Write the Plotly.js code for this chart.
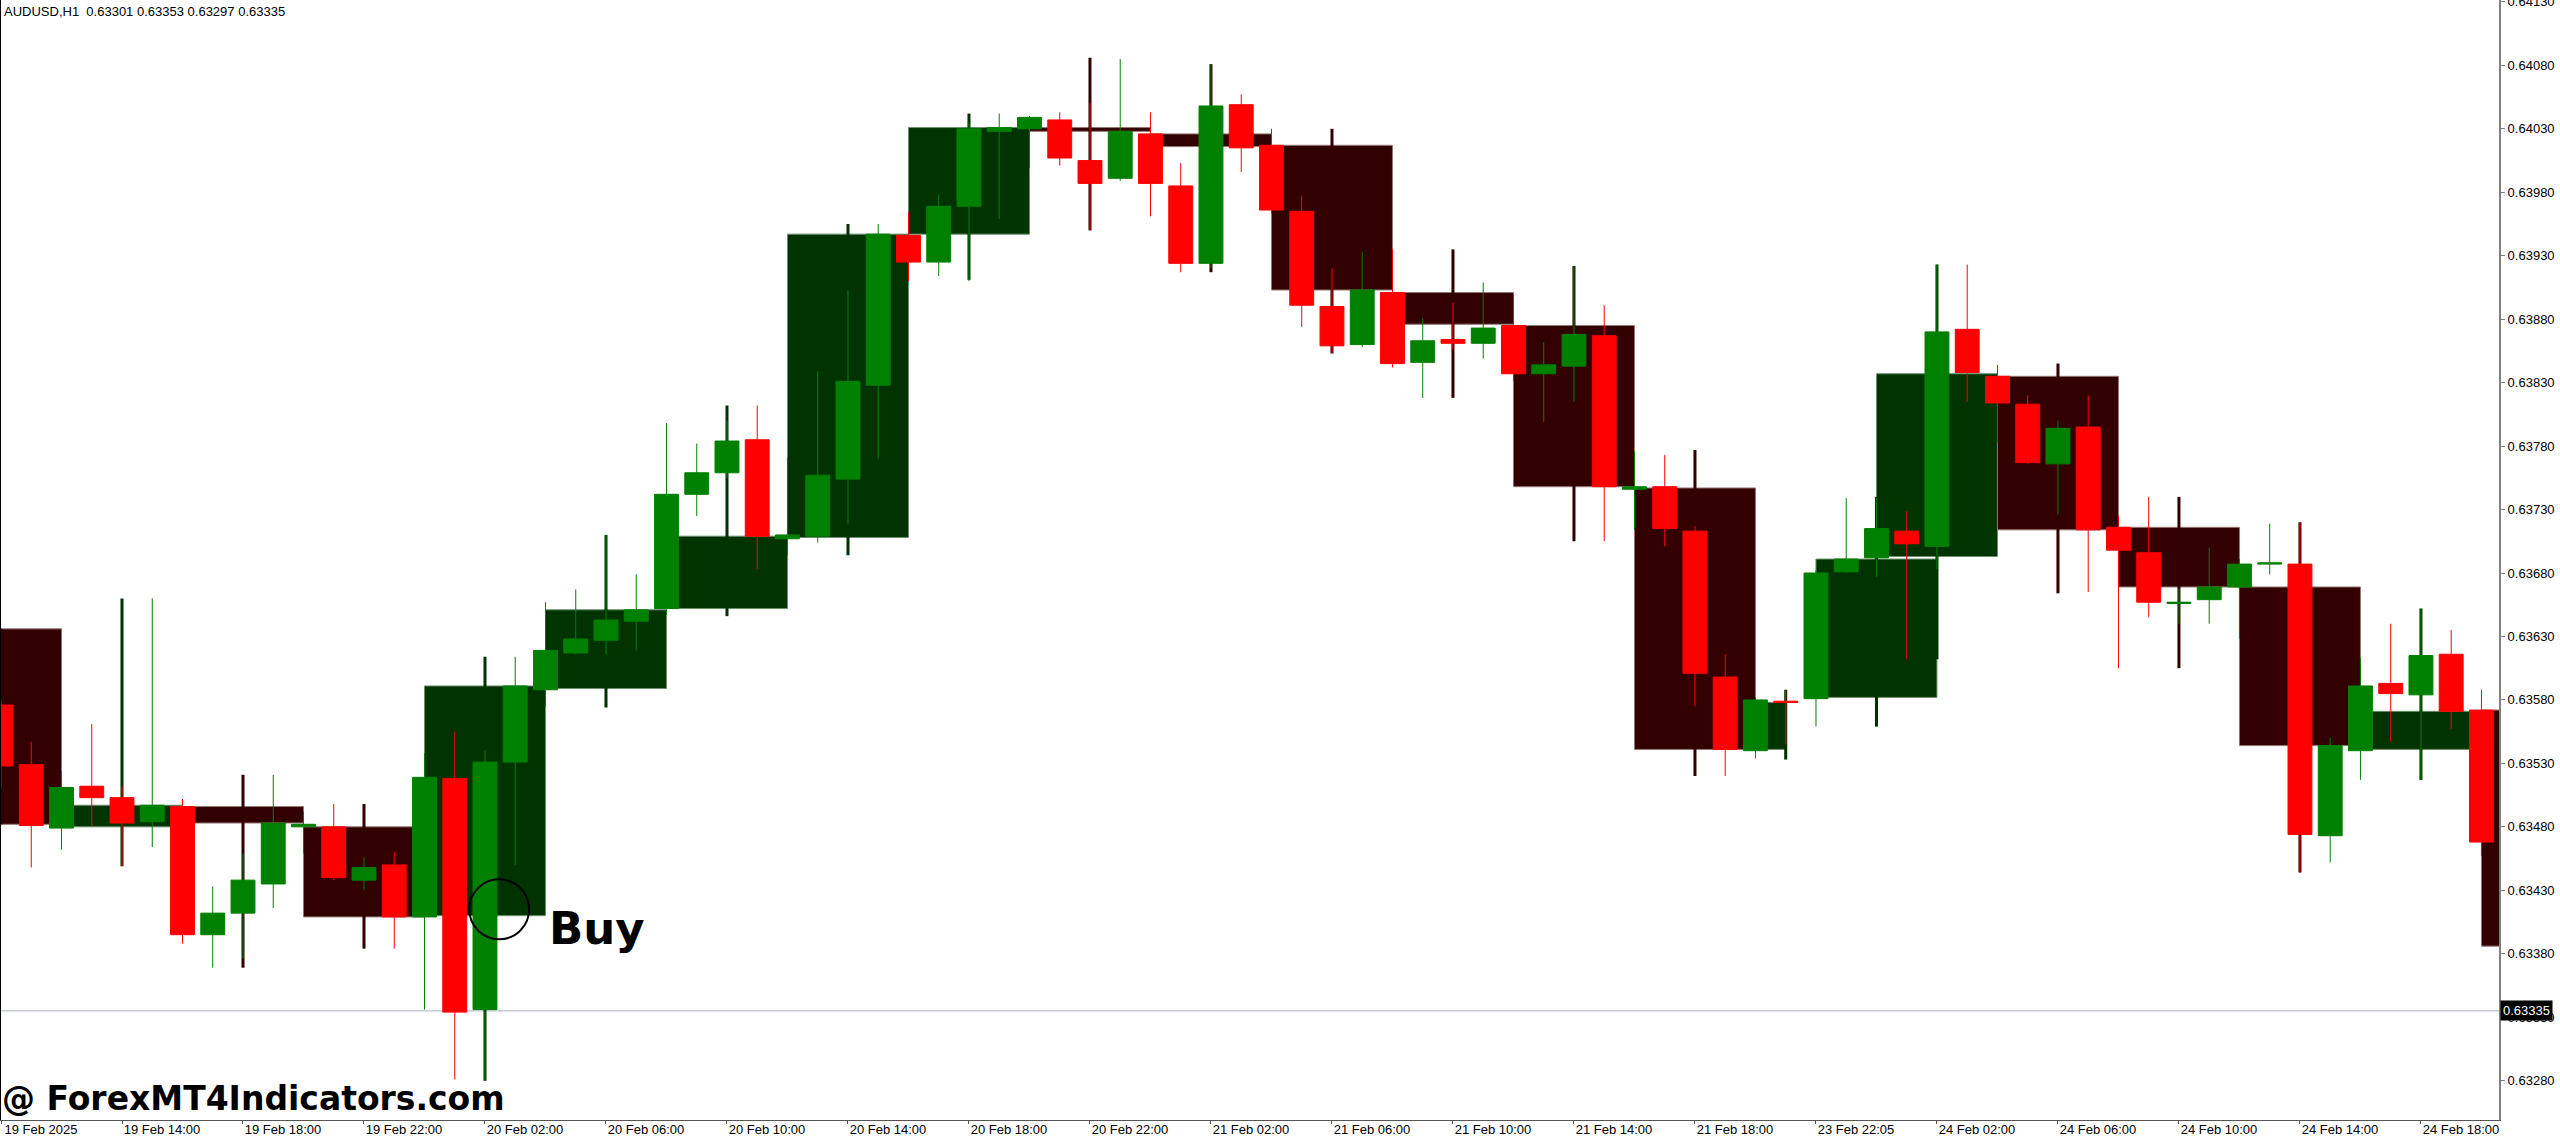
<!DOCTYPE html>
<html><head><meta charset="utf-8">
<script src="https://cdn.plot.ly/plotly-3.0.1.min.js"></script>
<style>html,body{margin:0;padding:0;background:#fff;overflow:hidden}#chart{width:2560px;height:1141px}</style>
</head><body><div id="chart"></div>
<script>
// ---------- texts ----------
const symbolInfo = "AUDUSD,H1  0.63301 0.63353 0.63297 0.63335";
const watermark = "@ ForexMT4Indicators.com";
const signalText = "Buy";
const currentPrice = 0.63335;

// ---------- x tick labels (every 4th H1 bar) ----------
const xTickIdx = [0,4,8,12,16,20,24,28,32,36,40,44,48,52,56,60,64,68,72,76,80];
const xTickText = ["19 Feb 2025","19 Feb 14:00","19 Feb 18:00","19 Feb 22:00","20 Feb 02:00","20 Feb 06:00",
  "20 Feb 10:00","20 Feb 14:00","20 Feb 18:00","20 Feb 22:00","21 Feb 02:00","21 Feb 06:00","21 Feb 10:00",
  "21 Feb 14:00","21 Feb 18:00","23 Feb 22:05","24 Feb 02:00","24 Feb 06:00","24 Feb 10:00","24 Feb 14:00","24 Feb 18:00"];

// ---------- H1 candles ----------
const h1Open = [
0.63576,0.63529,0.63479,0.63512,0.63503,0.63484,0.63496,0.63395,0.63412,0.63435,
0.63480,0.63480,0.63438,0.63450,0.63409,0.63518,0.63336,0.63531,0.63588,0.63617,
0.63627,0.63642,0.63652,0.63742,0.63759,0.63785,0.63707,0.63709,0.63754,0.63828,
0.63946,0.63925,0.63969,0.64028,0.64030,0.64037,0.64005,0.63991,0.64026,0.63985,
0.63924,0.64049,0.64017,0.63965,0.63890,0.63860,0.63901,0.63846,0.63864,0.63861,
0.63875,0.63837,0.63843,0.63867,0.63746,0.63748,0.63713,0.63598,0.63540,0.63579,
0.63581,0.63681,0.63692,0.63713,0.63701,0.63872,0.63835,0.63813,0.63766,0.63795,
0.63716,0.63696,0.63656,0.63659,0.63669,0.63687,0.63687,0.63473,0.63540,0.63593,
0.63584,0.63616,0.63572];
const h1High = [
0.63580,0.63547,0.63524,0.63561,0.63512,0.63660,0.63502,0.63433,0.63459,0.63521,
0.63492,0.63498,0.63456,0.63460,0.63538,0.63555,0.63540,0.63614,0.63657,0.63667,
0.63710,0.63679,0.63798,0.63782,0.63800,0.63812,0.63771,0.63839,0.63903,0.63955,
0.63964,0.63978,0.64035,0.64042,0.64040,0.64043,0.64050,0.64085,0.64043,0.64003,
0.64081,0.64057,0.64030,0.63977,0.63920,0.63933,0.63935,0.63881,0.63893,0.63909,
0.63899,0.63862,0.63922,0.63891,0.63776,0.63773,0.63717,0.63616,0.63582,0.63588,
0.63682,0.63739,0.63739,0.63729,0.63923,0.63923,0.63844,0.63820,0.63800,0.63820,
0.63725,0.63740,0.63668,0.63700,0.63691,0.63719,0.63720,0.63550,0.63613,0.63640,
0.63652,0.63635,0.63588];
const h1Low = [
0.63511,0.63448,0.63462,0.63480,0.63449,0.63464,0.63388,0.63369,0.63376,0.63416,
0.63459,0.63438,0.63430,0.63384,0.63336,0.63281,0.63280,0.63450,0.63575,0.63616,
0.63616,0.63619,0.63647,0.63725,0.63755,0.63683,0.63694,0.63704,0.63719,0.63770,
0.63910,0.63914,0.63910,0.63959,0.63999,0.64001,0.63950,0.63989,0.63961,0.63917,
0.63920,0.63996,0.63963,0.63874,0.63853,0.63858,0.63842,0.63818,0.63856,0.63849,
0.63831,0.63799,0.63815,0.63705,0.63714,0.63701,0.63575,0.63520,0.63534,0.63545,
0.63559,0.63680,0.63677,0.63612,0.63683,0.63815,0.63783,0.63766,0.63726,0.63665,
0.63605,0.63645,0.63640,0.63640,0.63628,0.63679,0.63444,0.63452,0.63517,0.63547,
0.63517,0.63557,0.63457];
const h1Close = [
0.63528,0.63481,0.63511,0.63503,0.63483,0.63497,0.63395,0.63412,0.63438,0.63483,
0.63482,0.63440,0.63448,0.63409,0.63519,0.63334,0.63531,0.63591,0.63619,0.63628,
0.63643,0.63651,0.63742,0.63759,0.63784,0.63709,0.63710,0.63757,0.63831,0.63947,
0.63925,0.63969,0.64030,0.64031,0.64039,0.64007,0.63987,0.64028,0.63987,0.63924,
0.64048,0.64015,0.63966,0.63891,0.63859,0.63903,0.63845,0.63863,0.63861,0.63873,
0.63837,0.63844,0.63868,0.63748,0.63748,0.63715,0.63601,0.63541,0.63580,0.63578,
0.63680,0.63691,0.63715,0.63703,0.63870,0.63838,0.63814,0.63767,0.63794,0.63714,
0.63698,0.63657,0.63657,0.63669,0.63687,0.63688,0.63474,0.63544,0.63591,0.63585,
0.63615,0.63571,0.63468];

// ---------- H4 boxes (span in H1 bar index) ----------
const h4From   = [-2,2,6,10,14,18,22,26,30,34,38,42,46,50,54,58,60,62,66,70,74,78,82];
const h4To     = [2,6,10,14,18,22,26,30,34,38,42,46,50,54,58,59,64,66,70,74,78,82,86];
const h4WickAt = [0,4,8,12,16,20,24,28,32,36,40,44,48,52,56,59,62,64,68,72,76,80,84];
const h4Open  = [0.63636,0.63480,0.63496,0.63480,0.63410,0.63589,0.63652,0.63708,0.63947,0.64031,0.64026,0.64017,0.63901,0.63875,0.63747,0.63541,0.63582,0.63693,0.63835,0.63716,0.63669,0.63541,0.63572];
const h4High  = [0.63636,0.63660,0.63521,0.63498,0.63614,0.63710,0.63812,0.63955,0.64042,0.64086,0.64081,0.64030,0.63935,0.63922,0.63777,0.63588,0.63740,0.63923,0.63845,0.63740,0.63720,0.63652,0.63588];
const h4Low   = [0.63482,0.63449,0.63369,0.63384,0.63280,0.63574,0.63646,0.63694,0.63911,0.63950,0.63917,0.63853,0.63818,0.63705,0.63520,0.63533,0.63559,0.63612,0.63664,0.63605,0.63444,0.63517,0.63386];
const h4Close = [0.63482,0.63497,0.63483,0.63409,0.63591,0.63651,0.63709,0.63947,0.64031,0.64028,0.64016,0.63903,0.63876,0.63748,0.63541,0.63578,0.63691,0.63837,0.63714,0.63669,0.63544,0.63571,0.63386];

// ---------- Buy marker ----------
const buySignal = {idx: 16.47, price: 0.63415, rIdx: 0.99, rPrice: 0.000236};
const buyLabel = {idx: 18.06, price: 0.63400};

// ---------- build ----------
const candleIdx = h1Open.map((_, i) => i);
const darkGreen = '#003300', darkRed = '#330000';
const h4Up = h4Close.map((c, i) => c >= h4Open[i]);

const h4Bodies = {
  type: 'bar',
  x: h4From.map((f, i) => (f + h4To[i]) / 2),
  width: h4From.map((f, i) => h4To[i] - f),
  base: h4Open.map((o, i) => Math.min(o, h4Close[i])),
  y: h4Open.map((o, i) => Math.abs(h4Close[i] - o)),
  marker: {color: h4Up.map(u => u ? darkGreen : darkRed),
           line: {width: 1, color: h4Up.map(u => u ? '#6a8f6a' : '#957676')}},
  hoverinfo: 'skip'
};
const h4Wicks = {
  type: 'bar',
  x: h4WickAt,
  width: h4WickAt.map(() => 0.1),
  base: h4Low,
  y: h4High.map((h, i) => h - h4Low[i]),
  marker: {color: h4Up.map(u => u ? darkGreen : darkRed), line: {width: 0}},
  hoverinfo: 'skip'
};
const h1Candles = {
  type: 'candlestick',
  x: candleIdx, open: h1Open, high: h1High, low: h1Low, close: h1Close,
  increasing: {line: {color: '#008000', width: 1}, fillcolor: '#008000'},
  decreasing: {line: {color: '#FF0000', width: 1}, fillcolor: '#FF0000'},
  whiskerwidth: 0,
  hoverinfo: 'skip'
};

const baseFont = 'Liberation Sans, Arial, sans-serif';
const layout = {
  width: 2560, height: 1141,
  margin: {l: 0, r: 61, t: 0, b: 21, pad: 0},
  paper_bgcolor: '#ffffff', plot_bgcolor: '#ffffff',
  showlegend: false, hovermode: false,
  barmode: 'overlay', boxgap: 0.21, boxgroupgap: 0,
  font: {family: baseFont, size: 13, color: '#000'},
  xaxis: {
    range: [-0.033, 82.58], tickmode: 'array', tickvals: xTickIdx, ticktext: xTickText,
    ticks: 'outside', ticklen: 3, tickcolor: '#555', showline: true, linecolor: '#555', linewidth: 1,
    showgrid: false, zeroline: false, rangeslider: {visible: false}, ticklabelshift: 40,
    ticklabelstandoff: -6, ticklabeloverflow: 'allow',
    tickfont: {family: baseFont, size: 13, color: '#000'}, fixedrange: true
  },
  yaxis: {
    side: 'right', range: [0.63249, 0.641315], tick0: 0.6328, dtick: 0.0005, tickformat: '.5f',
    ticks: 'outside', ticklen: 4, tickcolor: '#808080', showline: true, linecolor: '#808080', linewidth: 2,
    showgrid: false, zeroline: false, ticklabeloverflow: 'allow',
    tickfont: {family: baseFont, size: 13, color: '#000'}, fixedrange: true
  },
  shapes: [
    {type: 'line', layer: 'below', xref: 'paper', x0: 0, x1: 1, yref: 'y', y0: currentPrice, y1: currentPrice,
     line: {color: '#A8B2BC', width: 1}},
    {type: 'line', xref: 'paper', x0: 0, x1: 0, yref: 'paper', y0: 0, y1: 1, line: {color: '#000', width: 2}},
    {type: 'circle', xref: 'x', yref: 'y',
     x0: buySignal.idx - buySignal.rIdx, x1: buySignal.idx + buySignal.rIdx,
     y0: buySignal.price - buySignal.rPrice, y1: buySignal.price + buySignal.rPrice,
     line: {color: '#000', width: 2}}
  ],
  annotations: [
    {xref: 'paper', yref: 'paper', x: 0, y: 1, xanchor: 'left', yanchor: 'top', xshift: 2, yshift: -2,
     text: symbolInfo, showarrow: false, font: {family: baseFont, size: 13, color: '#000'}},
    {xref: 'paper', yref: 'paper', x: 0, y: 0, xanchor: 'left', yanchor: 'bottom',
     text: watermark, showarrow: false, font: {family: 'DejaVu Sans', size: 33, color: '#000', weight: 700}},
    {xref: 'x', yref: 'y', x: buyLabel.idx, y: buyLabel.price, xanchor: 'left', yanchor: 'middle',
     text: signalText, showarrow: false, font: {family: 'DejaVu Sans', size: 45, color: '#000', weight: 700}},
    {xref: 'paper', yref: 'y', x: 1, y: currentPrice, xanchor: 'left', yanchor: 'middle', xshift: 1,
     text: currentPrice.toFixed(5), showarrow: false, bgcolor: '#000', borderpad: 2,
     font: {family: baseFont, size: 13, color: '#fff'}}
  ]
};

Plotly.newPlot('chart', [h4Bodies, h4Wicks, h1Candles], layout, {staticPlot: true, displayModeBar: false});
</script></body></html>
